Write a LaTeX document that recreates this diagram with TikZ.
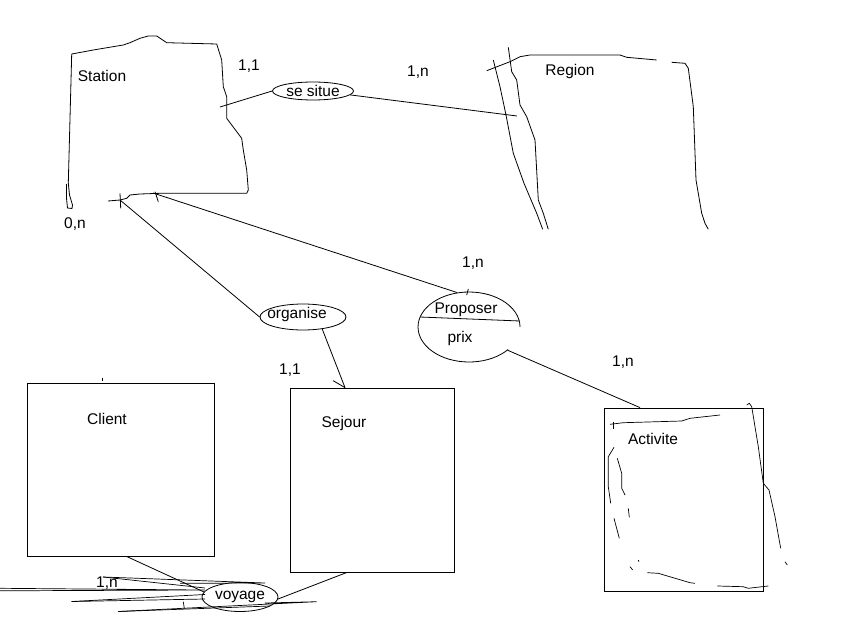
\documentclass[tikz,border=0pt]{standalone}
\usepackage{fontspec}
\setmainfont{Liberation Sans}
\usetikzlibrary{shapes,positioning}

\begin{document}
\begin{tikzpicture}[x=1pt,y=-1pt,line width=0.8pt,
    every node/.style={font=\fontsize{15.5}{18}\selectfont},
    entity/.style={shape=rectangle, draw, inner sep=0pt},
    assoc/.style={shape=ellipse, draw, inner sep=0pt},
    scribble/.style={line width=0.7pt}]
\useasboundingbox (0,0) rectangle (860,621);

% Station (drawn by hand)
\draw (71.7,54) -- (93.3,50) -- (123.3,45) -- (130,42.7) -- (140,38.3) -- (148.3,36) -- (156.7,36) -- (166.7,42.7) -- (216.7,44) -- (221.7,60) -- (223.3,86.7) -- (226.7,96.7) -- (226.7,118.3) -- (241.7,138.3) -- (243.3,150) -- (246.7,170) -- (248.3,190) -- (246.7,193.3) -- (160,193.3) -- (140,194) -- (130,195) -- (126.7,198.3) -- (120,200) -- (108,201);
\draw (71.7,54) -- (68.3,183) -- (69.5,195) -- (72.5,205) -- (72,208.5) -- (67.5,208) -- (66.5,198) -- (66.5,184);
\draw (120,193.3) -- (120.7,208.3);
\draw (155,191.7) -- (158.3,201.7);
\node (station) at (102,76) {Station};
\coordinate (stR) at (220,107);
\coordinate (stB1) at (120,200);
\coordinate (stB2) at (153,193);

% Region (drawn by hand)
\draw (486.7,70.7) -- (510,61.7) -- (520,56.7) -- (530,55) -- (620,55) -- (626.7,57.3) -- (656.7,60);
\draw (671.7,62.3) -- (685,63.3) -- (688.3,68.3) -- (693.3,106.7) -- (696,180) -- (701.7,213.3) -- (705,223.3) -- (708.3,229.3);
\draw (493.3,60) -- (500,86.7) -- (506,115) -- (513.3,153.3) -- (524,183.3) -- (536.7,213.3) -- (542.7,229.3);
\draw (508.3,47.3) -- (511.7,71.7) -- (516.7,80) -- (520,105) -- (526.7,116.7) -- (535,140) -- (538.3,200) -- (543.3,213.3) -- (548.3,229.3);
\node (region) at (570,71) {Region};
\coordinate (regL) at (517,116);

% associations
\node[assoc, minimum width=81pt, minimum height=18pt, label=center:se situe] (situe) at (313,91) {};
\node[assoc, minimum width=86pt, minimum height=26pt, label={[xshift=-6pt,yshift=3pt]center:organise}] (organise) at (303,317) {};
\node[assoc, draw=none, minimum width=102pt, minimum height=70pt] (proposer) at (469,327) {};
\draw ([shift={(39.1,22.5)}]proposer.center) arc[start angle=40, end angle=360, x radius=51, y radius=35];
\node (prop) at (466,310) {Proposer};
\node (prix) at (460,338) {prix};
\draw (420,317) -- (520,321);
\draw (468.3,289) -- (466.7,295);
\node[assoc, minimum width=76pt, minimum height=29pt, label=center:voyage] (voyage) at (240,597) {};

% entities
\node[entity, minimum width=187pt, minimum height=173pt] (client) at (120.5,469.5) {};
\node (clientlbl) at (107,419) {Client};
\draw (102,378) -- (102,381);
\node[entity, minimum width=164pt, minimum height=184pt] (sejour) at (372,480) {};
\node (sejourlbl) at (344,423) {Sejour};
\node[entity, minimum width=159pt, minimum height=183pt] (activite) at (683.5,499.5) {};
\node (activitelbl) at (653,439) {Activite};

% cardinalities
\node (c1) at (249,66) {1,1};
\node (c2) at (418,72) {1,n};
\node (c3) at (75,224) {0,n};
\node (c4) at (473,263) {1,n};
\node (c5) at (290,370) {1,1};
\node (c6) at (623,362) {1,n};
\node (c7) at (107,583) {1,n};

% links
\draw (stR) -- (situe.west);
\draw (situe.-6) -- (regL);
\draw (stB1) -- (organise.west);
\draw (stB2) -- (proposer.109);
\coordinate (sejTop) at ([xshift=-27pt]sejour.north);
\draw (organise.-32) -- (sejTop);
\draw ([shift={(-12pt,7pt)}]sejTop) -- (sejTop);
\draw (proposer.-31) -- ([xshift=-43.5pt]activite.north);
\draw ([xshift=6pt]client.south) -- (voyage.172);
\draw ([xshift=-25pt]sejour.south) -- (voyage.-3);

% scribbles round voyage
\draw[scribble] (0,588.3) -- (205,590) -- (0,590.8);
\draw[scribble] (103,577) -- (265,583) -- (180,583.3);
\draw[scribble] (103,577) -- (205,588);
\draw[scribble] (71.7,601.5) -- (205,594.5);
\draw[scribble] (71.7,601.5) -- (205,599);
\draw[scribble] (118.3,611.5) -- (316.7,601.7) -- (265,603);
\draw[scribble] (118.3,611.5) -- (270,606);
\draw[scribble] (183.3,601.7) -- (184.3,608.3);

% scribbles in Activite
\draw[scribble] (610,424.3) -- (623.3,422.7) -- (681.7,421) -- (690,418.3) -- (720,415);
\draw[scribble] (613.3,421.7) -- (613.3,429.3);
\draw[scribble] (614,447.3) -- (608.3,456.7) -- (608.3,486.7) -- (610.7,503.3);
\draw[scribble] (617.3,458.3) -- (621.7,473.3) -- (621.7,488.3) -- (625,495);
\draw[scribble] (628.3,508.3) -- (629.3,517.3);
\draw[scribble] (614,518.3) -- (619.3,538.3);
\draw[scribble] (630,566.7) -- (632.7,570);
\draw[scribble] (638.3,560) -- (639,561.7);
\draw[scribble] (647.3,572.7) -- (658.3,573.3) -- (690,582.7) -- (695,583.3);
\draw[scribble] (717.3,586) -- (743.3,586.7) -- (748.3,588.3) -- (768.3,586);
\draw[scribble] (746.7,405) -- (749.3,403.3) -- (751.7,406.7) -- (758.3,446.7) -- (763.3,483.3) -- (769,490) -- (775,516.7) -- (780.7,548.3);
\draw[scribble] (785,561.7) -- (787.3,565);
\end{tikzpicture}
\end{document}
